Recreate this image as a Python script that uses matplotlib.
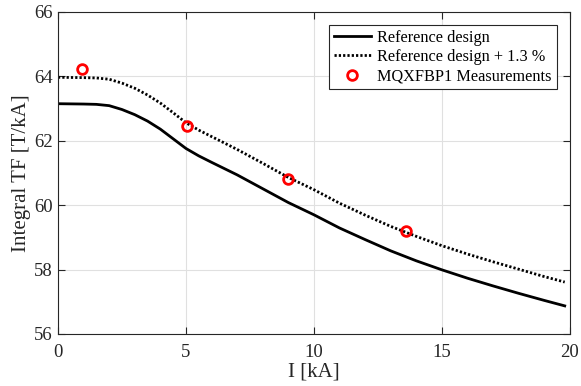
import matplotlib.pyplot as plt
import numpy as np

plt.rcParams['font.family'] = ['Liberation Serif', 'DejaVu Serif']

# current [kA]
current = [0, 1, 1.5, 2, 2.5, 3, 3.5, 4, 4.5, 5, 5.5, 6, 7, 8, 9, 10, 11, 12, 13, 14, 15, 16, 17, 18, 19, 19.8]
# reference design integral TF [T/kA]
ref_tf = [63.15, 63.14, 63.13, 63.09, 62.97, 62.81, 62.61, 62.36, 62.06, 61.76, 61.53, 61.33, 60.94, 60.51, 60.08,
          59.70, 59.29, 58.93, 58.58, 58.27, 57.99, 57.73, 57.49, 57.26, 57.04, 56.87]
# reference design + 1.3 %
ref_tf_plus = [63.97, 63.96, 63.95, 63.91, 63.79, 63.63, 63.42, 63.17, 62.87, 62.56, 62.33, 62.13, 61.73, 61.30,
               60.86, 60.48, 60.06, 59.69, 59.34, 59.03, 58.74, 58.48, 58.24, 58.01, 57.78, 57.61]
# measurements
meas_current = [0.95, 5.05, 9.0, 13.6]
meas_tf = [64.22, 62.45, 60.80, 59.20]

fig = plt.figure(figsize=(5.81, 3.86), dpi=100)
ax = fig.add_axes([0.0998, 0.135, 0.881, 0.834])

ax.plot(current, ref_tf, '-', color='black', linewidth=2, label='Reference design')
ax.plot(current, ref_tf_plus, color='black', linewidth=2, dashes=(0.8, 0.75),
        label='Reference design + 1.3 %')
ax.plot(meas_current, meas_tf, 'o', markerfacecolor='none', markeredgecolor='red',
        markeredgewidth=2, markersize=7, label='MQXFBP1 Measurements')

ax.set_xlim(0, 20)
ax.set_ylim(56, 66)
ax.set_xticks([0, 5, 10, 15, 20])
ax.set_yticks([56, 58, 60, 62, 64, 66])
ax.grid(True, color='#e0e0e0', linewidth=0.8)
ax.set_axisbelow(True)
ax.tick_params(direction='in', top=True, right=True, labelsize=13.5, colors='#262626', length=5, pad=4)
ax.tick_params(axis='x', pad=7.5)
for s in ax.spines.values():
    s.set_color('#262626')
    s.set_linewidth(0.8)

ax.set_xlabel('I [kA]', fontsize=15, color='#262626', labelpad=1)
ax.set_ylabel('Integral TF [T/kA]', fontsize=15, color='#262626', labelpad=2)

leg = ax.legend(loc='upper right', fontsize=11.7, fancybox=False, framealpha=1,
                edgecolor='#262626', handlelength=2.3, borderpad=0.3, labelspacing=0.2,
                handletextpad=0.4, bbox_to_anchor=(1, 1), borderaxespad=0.8)
leg.get_frame().set_linewidth(0.8)

fig.savefig('out.png', dpi=100)
